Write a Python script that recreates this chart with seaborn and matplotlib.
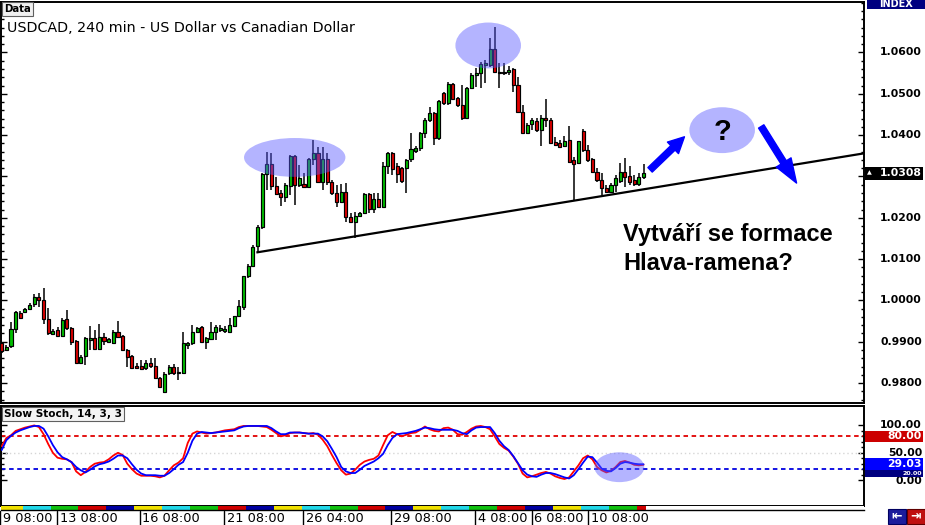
import numpy as np
import pandas as pd
import matplotlib
matplotlib.use("Agg")
import matplotlib.pyplot as plt
import matplotlib.transforms as mtransforms
from matplotlib.patches import Ellipse, Rectangle, FancyArrowPatch
from matplotlib.lines import Line2D
from matplotlib.ticker import FixedLocator
import seaborn as sns

sns.set_style("white")
plt.rcParams["font.family"] = ["DejaVu Sans"]
plt.rcParams["text.color"] = "black"

# ---------------- data ----------------
opens = [0.9897, 0.9880, 0.9890, 0.9931, 0.9970, 0.9972, 0.9980, 0.9991, 1.0008, 1.0001,
         0.9955, 0.9919, 0.9928, 0.9914, 0.9955, 0.9933, 0.9902, 0.9849, 0.9865, 0.9904,
         0.9909, 0.9882, 0.9911, 0.9899, 0.9897, 0.9924, 0.9914, 0.9880, 0.9865, 0.9841,
         0.9841, 0.9836, 0.9849, 0.9841, 0.9812, 0.9778, 0.9824, 0.9839, 0.9824, 0.9824,
         0.9892, 0.9897, 0.9924, 0.9936, 0.9899, 0.9907, 0.9924, 0.9928, 0.9926, 0.9924,
         0.9938, 0.9962, 0.9984, 1.0059, 1.0083, 1.0132, 1.0178, 1.0306, 1.0330, 1.0277,
         1.0260, 1.0250, 1.0277, 1.0349, 1.0279, 1.0282, 1.0274, 1.0342, 1.0356, 1.0287,
         1.0342, 1.0287, 1.0260, 1.0238, 1.0262, 1.0202, 1.0190, 1.0204, 1.0211, 1.0258,
         1.0221, 1.0245, 1.0226, 1.0325, 1.0356, 1.0325, 1.0320, 1.0320, 1.0342, 1.0361,
         1.0369, 1.0405, 1.0436, 1.0453, 1.0393, 1.0502, 1.0478, 1.0524, 1.0490, 1.0473,
         1.0441, 1.0514, 1.0546, 1.0550, 1.0570, 1.0570, 1.0608, 1.0553, 1.0553, 1.0553,
         1.0560, 1.0521, 1.0456, 1.0405, 1.0426, 1.0434, 1.0412, 1.0441, 1.0437, 1.0383,
         1.0381, 1.0374, 1.0388, 1.0340, 1.0333, 1.0410, 1.0364, 1.0342, 1.0311, 1.0291,
         1.0272, 1.0262, 1.0279, 1.0289, 1.0311, 1.0301, 1.0291, 1.0282, 1.0299]
highs = [0.9899, 0.9892, 0.9948, 0.9974, 0.9974, 0.9982, 0.9994, 1.0016, 1.0018, 1.0030,
         0.9982, 0.9931, 0.9936, 0.9957, 0.9977, 0.9936, 0.9904, 0.9868, 0.9911, 0.9938,
         0.9928, 0.9943, 0.9921, 0.9909, 0.9928, 0.9950, 0.9916, 0.9882, 0.9868, 0.9849,
         0.9856, 0.9856, 0.9861, 0.9861, 0.9815, 0.9827, 0.9844, 0.9846, 0.9839, 0.9924,
         0.9899, 0.9940, 0.9936, 0.9938, 0.9911, 0.9948, 0.9940, 0.9940, 0.9938, 0.9957,
         0.9962, 1.0001, 1.0059, 1.0088, 1.0134, 1.0182, 1.0308, 1.0359, 1.0357, 1.0299,
         1.0267, 1.0284, 1.0352, 1.0352, 1.0328, 1.0308, 1.0344, 1.0388, 1.0371, 1.0371,
         1.0357, 1.0291, 1.0279, 1.0282, 1.0284, 1.0211, 1.0214, 1.0214, 1.0260, 1.0260,
         1.0260, 1.0260, 1.0335, 1.0359, 1.0359, 1.0333, 1.0323, 1.0342, 1.0405, 1.0373,
         1.0407, 1.0441, 1.0468, 1.0456, 1.0485, 1.0504, 1.0529, 1.0526, 1.0492, 1.0521,
         1.0516, 1.0550, 1.0562, 1.0577, 1.0582, 1.0635, 1.0662, 1.0575, 1.0575, 1.0567,
         1.0562, 1.0540, 1.0473, 1.0429, 1.0441, 1.0441, 1.0448, 1.0487, 1.0441, 1.0395,
         1.0388, 1.0398, 1.0422, 1.0347, 1.0386, 1.0415, 1.0376, 1.0345, 1.0320, 1.0308,
         1.0279, 1.0284, 1.0303, 1.0333, 1.0345, 1.0325, 1.0303, 1.0308, 1.0330]
lows = [0.9873, 0.9878, 0.9885, 0.9921, 0.9955, 0.9970, 0.9977, 0.9984, 0.9984, 0.9943,
        0.9916, 0.9916, 0.9911, 0.9911, 0.9928, 0.9892, 0.9849, 0.9846, 0.9844, 0.9880,
        0.9880, 0.9880, 0.9892, 0.9897, 0.9895, 0.9909, 0.9880, 0.9839, 0.9836, 0.9836,
        0.9832, 0.9832, 0.9836, 0.9810, 0.9788, 0.9776, 0.9820, 0.9820, 0.9807, 0.9822,
        0.9882, 0.9892, 0.9921, 0.9897, 0.9882, 0.9904, 0.9904, 0.9924, 0.9921, 0.9921,
        0.9936, 0.9960, 0.9977, 1.0054, 1.0081, 1.0115, 1.0173, 1.0267, 1.0267, 1.0255,
        1.0229, 1.0238, 1.0255, 1.0231, 1.0274, 1.0272, 1.0272, 1.0328, 1.0286, 1.0267,
        1.0279, 1.0255, 1.0226, 1.0236, 1.0190, 1.0187, 1.0151, 1.0202, 1.0209, 1.0211,
        1.0211, 1.0223, 1.0226, 1.0306, 1.0303, 1.0284, 1.0284, 1.0260, 1.0335, 1.0356,
        1.0361, 1.0393, 1.0432, 1.0376, 1.0388, 1.0473, 1.0473, 1.0485, 1.0468, 1.0437,
        1.0439, 1.0512, 1.0516, 1.0514, 1.0526, 1.0565, 1.0550, 1.0514, 1.0546, 1.0546,
        1.0504, 1.0453, 1.0403, 1.0403, 1.0412, 1.0407, 1.0373, 1.0419, 1.0379, 1.0374,
        1.0369, 1.0371, 1.0333, 1.0243, 1.0330, 1.0359, 1.0335, 1.0308, 1.0287, 1.0255,
        1.0260, 1.0260, 1.0262, 1.0284, 1.0274, 1.0279, 1.0277, 1.0277, 1.0294]
closes = [0.9878, 0.9887, 0.9931, 0.9972, 0.9957, 0.9980, 0.9989, 1.0008, 1.0001, 0.9955,
          0.9921, 0.9926, 0.9914, 0.9953, 0.9933, 0.9899, 0.9849, 0.9863, 0.9909, 0.9909,
          0.9882, 0.9911, 0.9902, 0.9907, 0.9924, 0.9911, 0.9880, 0.9863, 0.9836, 0.9836,
          0.9834, 0.9849, 0.9841, 0.9812, 0.9790, 0.9822, 0.9839, 0.9824, 0.9827, 0.9897,
          0.9897, 0.9924, 0.9933, 0.9899, 0.9909, 0.9924, 0.9936, 0.9933, 0.9931, 0.9940,
          0.9962, 0.9986, 1.0059, 1.0083, 1.0129, 1.0177, 1.0306, 1.0330, 1.0277, 1.0258,
          1.0250, 1.0279, 1.0349, 1.0279, 1.0296, 1.0274, 1.0342, 1.0356, 1.0287, 1.0342,
          1.0287, 1.0260, 1.0238, 1.0262, 1.0202, 1.0190, 1.0204, 1.0211, 1.0258, 1.0221,
          1.0245, 1.0226, 1.0325, 1.0356, 1.0318, 1.0306, 1.0289, 1.0340, 1.0366, 1.0369,
          1.0405, 1.0436, 1.0453, 1.0393, 1.0483, 1.0478, 1.0524, 1.0488, 1.0473, 1.0441,
          1.0514, 1.0546, 1.0550, 1.0572, 1.0575, 1.0608, 1.0553, 1.0550, 1.0550, 1.0558,
          1.0521, 1.0456, 1.0405, 1.0424, 1.0436, 1.0412, 1.0441, 1.0436, 1.0381, 1.0376,
          1.0371, 1.0386, 1.0335, 1.0330, 1.0386, 1.0364, 1.0340, 1.0311, 1.0291, 1.0272,
          1.0262, 1.0279, 1.0296, 1.0311, 1.0299, 1.0287, 1.0282, 1.0299, 1.0308]

stoch_k = [62, 77, 82, 90, 93, 96, 98, 100, 97, 84,
           66, 50, 41, 39, 38, 33, 16, 9, 15, 24,
           30, 32, 33, 38, 45, 50, 46, 30, 20, 12,
           8, 8, 8, 7, 5, 8, 18, 27, 32, 40,
           68, 85, 89, 87, 85, 86, 87, 89, 91, 92,
           93, 97, 99, 99, 99, 99, 98, 97, 92, 86,
           80, 82, 86, 87, 87, 86, 85, 86, 83, 74,
           62, 46, 31, 18, 10, 12, 19, 28, 34, 37,
           39, 45, 64, 82, 88, 84, 80, 83, 86, 87,
           92, 98, 93, 90, 89, 95, 96, 92, 84, 83,
           88, 94, 98, 99, 97, 93, 80, 66, 59, 54,
           43, 30, 12, 5, 7, 10, 13, 15, 12, 7,
           4, 2, 5, 16, 27, 40, 45, 38, 24, 18,
           14, 17, 24, 33, 35, 32, 28, 27, 28]
stoch_d = [55, 73, 81, 87, 91, 94, 97, 99, 99, 94,
           80, 64, 51, 42, 38, 33, 24, 18, 14, 19,
           25, 29, 31, 34, 39, 45, 45, 40, 29, 19,
           12, 9, 9, 9, 8, 8, 13, 20, 28, 33,
           50, 72, 85, 88, 87, 86, 87, 88, 89, 90,
           91, 95, 98, 99, 99, 99, 99, 99, 95, 89,
           84, 84, 87, 87, 87, 86, 85, 85, 85, 80,
           71, 57, 42, 24, 16, 13, 13, 19, 26, 30,
           34, 40, 48, 64, 77, 84, 85, 86, 88, 90,
           93, 96, 95, 93, 92, 92, 92, 92, 90, 86,
           84, 91, 96, 97, 97, 97, 86, 72, 62, 55,
           44, 31, 18, 10, 7, 6, 10, 13, 13, 11,
           8, 5, 3, 9, 20, 32, 43, 42, 32, 21,
           17, 16, 22, 30, 33, 32, 30, 29, 29.03]

date_labels = ["9 08:00", "13 08:00", "16 08:00", "21 08:00", "26 04:00",
               "29 08:00", "4 08:00", "6 08:00", "10 08:00"]
date_pos = [-0.3, 11.9, 29.7, 47.8, 64.8, 83.7, 101.8, 114.0, 126.1]
price_ticks = [0.98, 0.99, 1.00, 1.01, 1.02, 1.03, 1.04, 1.05, 1.06]
stoch_ticks = [0, 50, 100]
last_price = 1.0308
last_stoch = 29.03
stoch_over, stoch_under = 80, 20

# ---------------- layout ----------------
W, H = 925, 525
fig = plt.figure(figsize=(W / 100, H / 100), dpi=100)
fig.patch.set_facecolor("white")


def fx(x):
    return x / W


def fy(y):
    return 1 - y / H


XL = (-0.26, 185.4)
ax = fig.add_axes([fx(0.5), fy(403), fx(864) - fx(0.5), fy(1.5) - fy(403)])
ax2 = fig.add_axes([fx(0.5), fy(506), fx(864) - fx(0.5), fy(405.5) - fy(506)])
ax3 = fig.add_axes([fx(0.5), fy(510), fx(864) - fx(0.5), fy(506) - fy(510)])

for a in (ax, ax2, ax3):
    a.set_xlim(*XL)
    a.set_facecolor("white")
    a.set_xticks([])
    for s in a.spines.values():
        s.set_color("black")
        s.set_linewidth(1.4)

ax.set_ylim(0.97517, 1.07234)
ax2.set_ylim(-47.3, 136.4)

# ---------------- candles ----------------
n = len(opens)
idx = np.arange(n)
o = np.array(opens); c = np.array(closes); hi = np.array(highs); lo = np.array(lows)
up = c >= o
body_bot = np.minimum(o, c)
body_h = np.maximum(np.abs(c - o), 0.00018)
ax.vlines(idx, lo, hi, colors="black", linewidth=1.1, zorder=2)
ax.bar(idx, body_h, bottom=body_bot, width=0.66,
       color=np.where(up, "#00c000", "#e00000"), edgecolor="black",
       linewidth=0.85, zorder=3)

# trend line
ax.plot([54.75, 186.0], [1.0116, 1.0357], color="black", lw=1.6, zorder=3,
        solid_capstyle="butt")

# highlight ellipses
ell_col = (0.35, 0.35, 1.0)
for (cx, cy, w, h) in [(63.0, 1.0346, 21.8, 0.0094),
                       (104.6, 1.0617, 14.1, 0.0111),
                       (154.9, 1.0412, 14.1, 0.0111)]:
    ax.add_patch(Ellipse((cx, cy), w, h, facecolor=ell_col, alpha=0.45,
                         edgecolor="none", zorder=4))
ax.text(154.9, 1.0407, "?", ha="center", va="center", fontsize=21,
        fontweight="bold", family=["Liberation Sans"], color="black", zorder=6)

# arrows
a1 = FancyArrowPatch((139.4, 1.0316), (146.8, 1.0396),
                     arrowstyle="simple,head_length=1.15,head_width=1.15,tail_width=0.45",
                     mutation_scale=10, color="#0000ff", shrinkA=0, shrinkB=0, zorder=5)
a2 = FancyArrowPatch((163.3, 1.0421), (170.9, 1.0284),
                     arrowstyle="simple,head_length=1.75,head_width=1.25,tail_width=0.45",
                     mutation_scale=10, color="#0000ff", shrinkA=0, shrinkB=0, zorder=5)
ax.add_patch(a1)
ax.add_patch(a2)

ax.text(133.6, 1.0144, "Vytváří se formace", ha="left", va="baseline",
        fontsize=17, fontweight="bold", family=["Liberation Sans"], color="black", zorder=6)
ax.text(133.6, 1.0074, "Hlava-ramena?", ha="left", va="baseline",
        fontsize=17, fontweight="bold", family=["Liberation Sans"], color="black", zorder=6)

# y ticks main
ax.yaxis.set_major_locator(FixedLocator(price_ticks))
ax.yaxis.set_minor_locator(FixedLocator(np.round(np.arange(0.976, 1.0721, 0.002), 4)))
ax.tick_params(axis="y", which="both", direction="in", left=True, right=True,
               labelleft=False, labelright=False, color="black")
ax.tick_params(axis="y", which="major", length=4, width=1.0)
ax.tick_params(axis="y", which="minor", length=2.2, width=1.0)

# ---------------- stochastic ----------------
df = pd.DataFrame({"i": idx, "k": stoch_k, "d": stoch_d})
ax2.axhline(50, color="#d6d6d6", ls=(0, (1, 2)), lw=1.0, zorder=1)
ax2.axhline(stoch_over, color="#e00000", ls=(0, (2.5, 2)), lw=1.3, zorder=1)
ax2.axhline(stoch_under, color="#0000e0", ls=(0, (2.5, 2)), lw=1.3, zorder=1)
sns.lineplot(data=df, x="i", y="k", color="#ff0000", lw=1.3, ax=ax2, zorder=3)
sns.lineplot(data=df, x="i", y="d", color="#0000ff", lw=1.3, ax=ax2, zorder=3)
ax2.set_xlabel(""); ax2.set_ylabel("")
ax2.set_xlim(*XL)
ax2.add_patch(Ellipse((132.8, 23.6), 10.7, 54.5, facecolor=ell_col, alpha=0.45,
                      edgecolor="none", zorder=4))
ax2.yaxis.set_major_locator(FixedLocator(stoch_ticks))
ax2.yaxis.set_minor_locator(FixedLocator(list(range(0, 101, 10))))
ax2.tick_params(axis="y", which="both", direction="in", left=True, right=True,
                labelleft=False, labelright=False, color="black")
ax2.tick_params(axis="y", which="major", length=4, width=1.0)
ax2.tick_params(axis="y", which="minor", length=2.2, width=1.0)

# ---------------- day strip ----------------
strip_cols = ["#f0e000", "#20d8e8", "#10c010", "#d00000", "#0000a0"]
day = np.where(idx < 5, 0, (idx - 5) // 6 + 1)
ax3.bar(idx, np.ones(n), bottom=0, width=1.0,
        color=[strip_cols[d % 5] for d in day], edgecolor="none")
ax3.set_ylim(0, 1)
ax3.set_yticks([])
for s in ("top", "left", "right"):
    ax3.spines[s].set_visible(False)
ax3.spines["bottom"].set_linewidth(1.0)

# ---------------- date labels ----------------
bt = mtransforms.blended_transform_factory(ax2.transData, fig.transFigure)
for lab, p in zip(date_labels, date_pos):
    fig.add_artist(Line2D([p, p], [fy(511), fy(525)], transform=bt,
                          color="black", lw=1.0))
    fig.text(p + 0.55, fy(518.5), lab, transform=bt, ha="left", va="center",
             fontsize=9.3, color="black")

# ---------------- right side labels ----------------
b1 = mtransforms.blended_transform_factory(fig.transFigure, ax.transData)
for v in price_ticks:
    if abs(v - last_price) < 0.002:
        continue  # hidden under the current-price marker
    fig.text(fx(922), v, f"{v:.4f}", transform=b1, ha="right", va="center",
             fontsize=7.8, fontweight="bold", color="black")
fig.add_artist(Rectangle((fx(864.5), last_price - 0.00155), fx(923) - fx(864.5), 0.0031,
                         transform=b1, facecolor="black", edgecolor="none", zorder=5))
fig.text(fx(922), last_price, f"{last_price:.4f}", transform=b1, ha="right",
         va="center", fontsize=7.8, fontweight="bold", color="white", zorder=6)
fig.text(fx(869.5), last_price, "▲", transform=b1, ha="center", va="center",
         fontsize=4.5, color="white", zorder=6)

b2 = mtransforms.blended_transform_factory(fig.transFigure, ax2.transData)
for v in stoch_ticks:
    yv = v - 2.5 if v == 0 else v
    fig.text(fx(922), yv, f"{v:.2f}", transform=b2, ha="right", va="center",
             fontsize=7.8, fontweight="bold", color="black")
# level markers (the 20.00 one mostly hidden behind the current value)
fig.add_artist(Rectangle((fx(864.5), stoch_over - 10), fx(923) - fx(864.5), 20,
                         transform=b2, facecolor="#cc0000", edgecolor="none", zorder=5))
fig.text(fx(922), stoch_over, f"{stoch_over:.2f}", transform=b2, ha="right",
         va="center", fontsize=7.8, fontweight="bold", color="white", zorder=6)
fig.add_artist(Rectangle((fx(864.5), stoch_under - 14), fx(923) - fx(864.5), 20,
                         transform=b2, facecolor="#000080", edgecolor="none", zorder=5))
fig.text(fx(922), stoch_under - 8.5, f"{stoch_under:.2f}", transform=b2, ha="right",
         va="center", fontsize=4.5, fontweight="bold", color="white", zorder=5.5)
fig.add_artist(Rectangle((fx(864.5), last_stoch - 10), fx(923) - fx(864.5), 21,
                         transform=b2, facecolor="#0000ff", edgecolor="none", zorder=5.8))
fig.text(fx(922), last_stoch + 0.5, f"{last_stoch:.2f}", transform=b2, ha="right",
         va="center", fontsize=7.8, fontweight="bold", color="white", zorder=6)

# ---------------- header / boxes ----------------
fig.text(fx(7), fy(32), "USDCAD, 240 min - US Dollar vs Canadian Dollar",
         ha="left", va="baseline", fontsize=10.3, color="black")
fig.text(fx(4), fy(8.8), "Data", ha="left", va="center", fontsize=7.3,
         fontweight="bold", color="black",
         bbox=dict(boxstyle="square,pad=0.18", fc="#f0f0f0", ec="#606060", lw=0.8))
fig.text(fx(4), fy(414), "Slow Stoch, 14, 3, 3", ha="left", va="center",
         fontsize=7.6, fontweight="bold", color="black",
         bbox=dict(boxstyle="square,pad=0.2", fc="#f4f4f4", ec="#606060", lw=0.8))

fig.add_artist(Rectangle((fx(867), fy(9)), fx(925) - fx(867), fy(0) - fy(9),
                         transform=fig.transFigure, facecolor="#000080",
                         edgecolor="none"))
fig.text(fx(896), fy(4), "INDEX", ha="center", va="center", fontsize=7,
         fontweight="bold", color="white")

fig.add_artist(Rectangle((fx(888), fy(523.5)), fx(906) - fx(888), fy(508.5) - fy(523.5),
                         transform=fig.transFigure, facecolor="#1c1c9c",
                         edgecolor="#000060", lw=0.8))
fig.add_artist(Rectangle((fx(907), fy(523.5)), fx(925) - fx(907), fy(508.5) - fy(523.5),
                         transform=fig.transFigure, facecolor="#c01010",
                         edgecolor="#600000", lw=0.8))
fig.text(fx(897), fy(516), "⇤", ha="center", va="center", fontsize=9,
         color="white", fontweight="bold")
fig.text(fx(916), fy(516), "⇥", ha="center", va="center", fontsize=9,
         color="white", fontweight="bold")

fig.savefig("out.png", dpi=100, facecolor="white")
